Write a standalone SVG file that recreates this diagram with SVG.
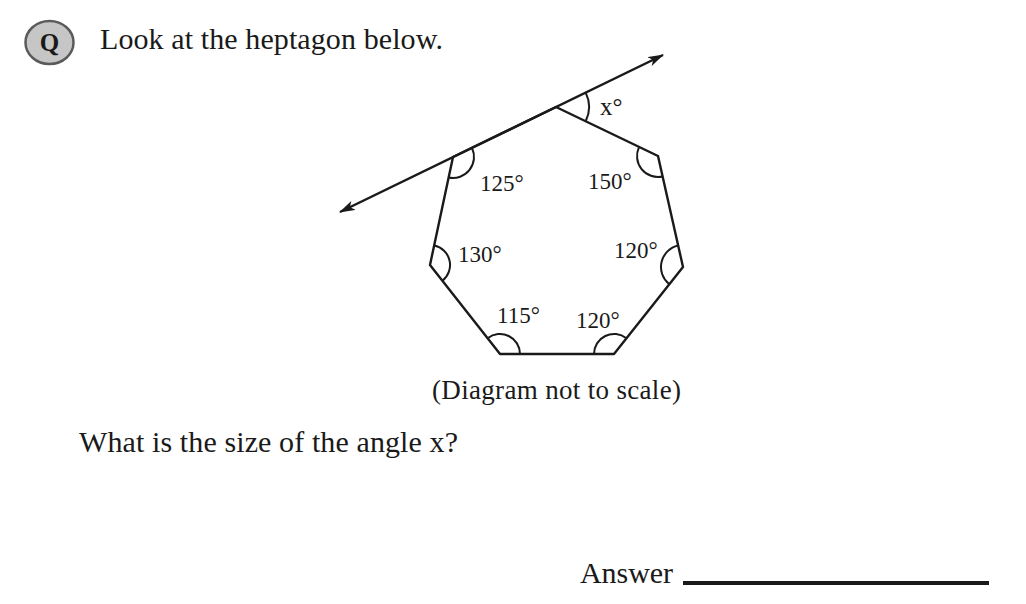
<svg xmlns="http://www.w3.org/2000/svg" width="1026" height="604" viewBox="0 0 1026 604">
<defs>
<style>
.t{font-family:"Liberation Serif","Times New Roman",serif;fill:#1a1a1a}
.big{font-size:30px}
.lab{font-size:23px}
.edge{fill:none;stroke:#1a1a1a;stroke-width:2.4;stroke-linejoin:round}
.arc{fill:none;stroke:#1a1a1a;stroke-width:2}
</style>
<marker id="ah" viewBox="0 0 16 10" markerWidth="16" markerHeight="10" refX="15" refY="5" orient="auto-start-reverse" markerUnits="userSpaceOnUse">
<path d="M0,0 L16,5 L0,10 L4,5 z" fill="#1a1a1a"/>
</marker>
</defs>
<rect width="1026" height="604" fill="#ffffff"/>

<g id="q-badge">
<ellipse cx="49.5" cy="42.5" rx="24" ry="21.5" fill="#c6c6c6" stroke="#5a5a5a" stroke-width="2.5"/>
<text x="49.5" y="51" text-anchor="middle" class="t" style="font-size:25px;font-weight:bold">Q</text>
</g>
<text id="title" class="t big" x="100" y="49" textLength="343" lengthAdjust="spacing">Look at the heptagon below.</text>

<g id="connectors">
<line x1="340" y1="212" x2="663" y2="55" class="edge" marker-start="url(#ah)" marker-end="url(#ah)"/>
</g>

<g id="heptagon">
<polygon class="edge" points="556,107 658,156 683,267 614,354 500,354 430,265 453,157"/>
</g>

<g id="angle-x">
<path class="arc" d="M585.7,92.6 A33,33 0 0 1 585.7,121.3"/>
<text class="t" style="font-size:25px" x="600" y="115">x°</text>
</g>
<g id="angle-125">
<path class="arc" d="M471.9,147.8 A21,21 0 0 1 448.6,177.5"/>
<text class="t lab" x="480" y="191">125°</text>
</g>
<g id="angle-150">
<path class="arc" d="M639.1,146.9 A21,21 0 0 0 662.6,176.5"/>
<text class="t lab" x="588" y="189">150°</text>
</g>
<g id="angle-130">
<path class="arc" d="M434.2,245.4 A20,20 0 0 1 442.4,280.7"/>
<text class="t lab" x="458" y="262">130°</text>
</g>
<g id="angle-120-right">
<path class="arc" d="M678.2,245.5 A22,22 0 0 0 669.3,284.2"/>
<text class="t lab" x="614" y="258">120°</text>
</g>
<g id="angle-115">
<path class="arc" d="M487.6,338.3 A20,20 0 0 1 520,354"/>
<text class="t lab" x="497" y="323">115°</text>
</g>
<g id="angle-120-bottom">
<path class="arc" d="M594,354 A20,20 0 0 1 626.4,338.3"/>
<text class="t lab" x="576" y="328">120°</text>
</g>

<text id="note" class="t" style="font-size:27px" x="432" y="399" textLength="249" lengthAdjust="spacing">(Diagram not to scale)</text>
<text id="question" class="t big" x="79" y="452" textLength="379" lengthAdjust="spacing">What is the size of the angle x?</text>
<text id="answer" class="t big" x="580" y="583" textLength="93" lengthAdjust="spacing">Answer</text>
<line x1="683" y1="583" x2="989" y2="583" stroke="#1a1a1a" stroke-width="4"/>
</svg>
